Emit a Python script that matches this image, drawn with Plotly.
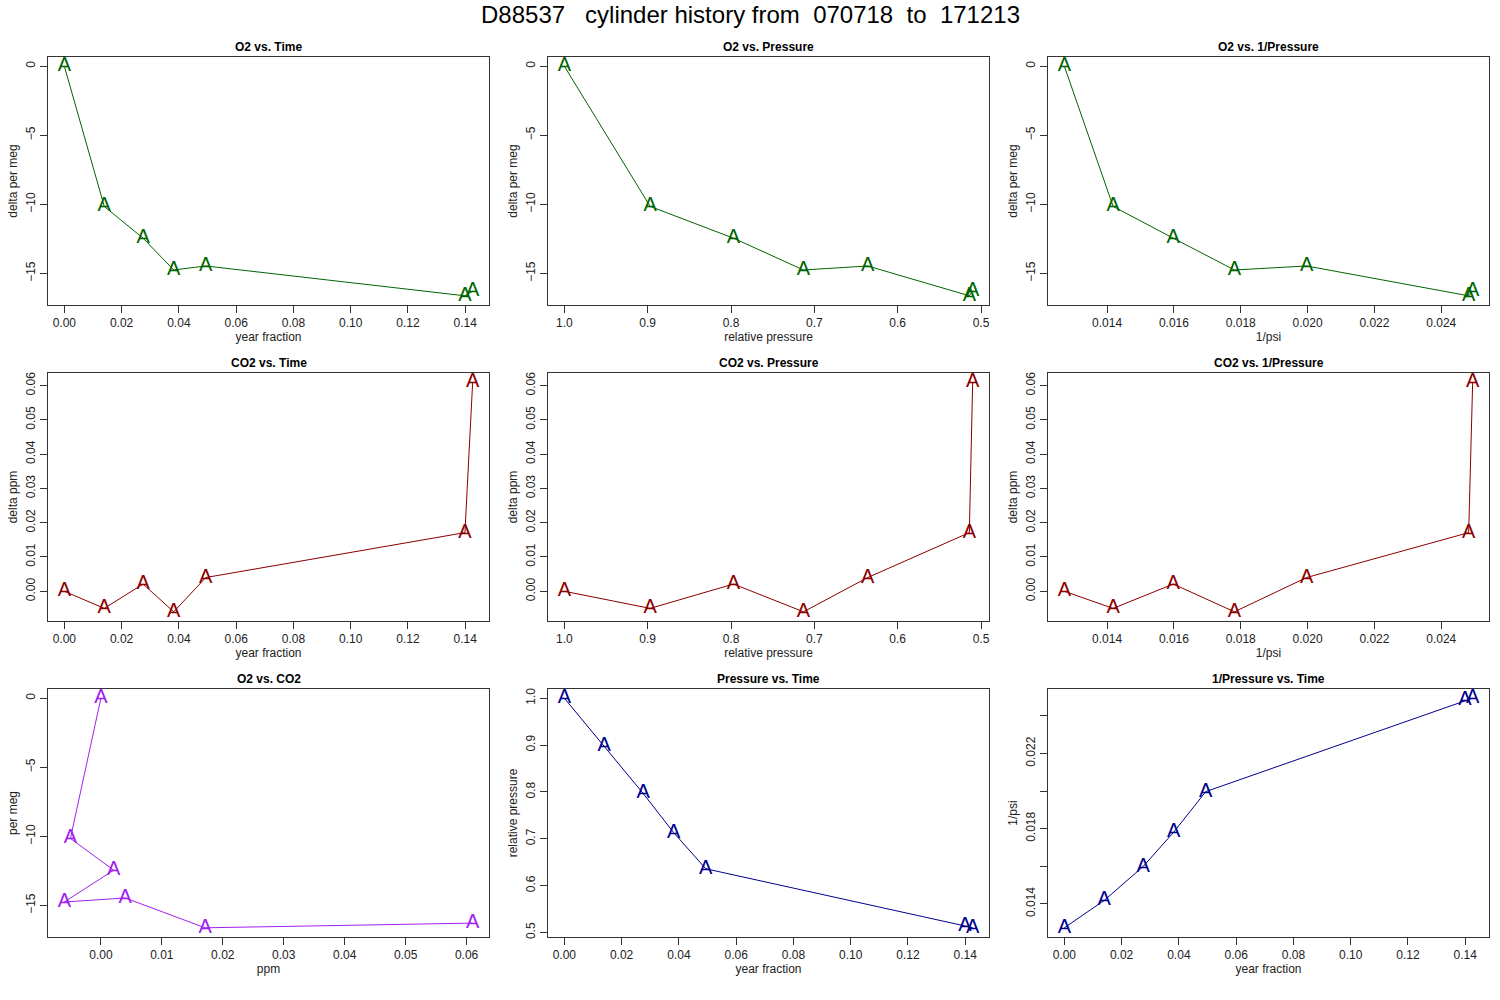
import plotly.graph_objects as go

# cylinder history data (7 runs)
year_frac = [0.0, 0.01395, 0.0275, 0.0382, 0.0494, 0.1399, 0.1426]
o2_permeg = [0.0, -10.15, -12.45, -14.75, -14.46, -16.62, -16.28]
co2_ppm = [0.0, -0.0050, 0.0021, -0.0060, 0.0040, 0.0171, 0.0610]
rel_pressure = [1.0, 0.897, 0.797, 0.713, 0.636, 0.514, 0.510]
inv_psi = [0.01272, 0.01418, 0.01598, 0.01781, 0.01997, 0.02482, 0.02494]
point_label = ["A"] * 7

main_title = "D88537   cylinder history from  070718  to  171213"

GREEN = "#006400"
RED = "#8B0000"
PURPLE = "#A020F0"
BLUE = "#00008B"
FONT = "Liberation Sans, Arial, sans-serif"


def r_range(vals, reverse=False):
    lo, hi = min(vals), max(vals)
    pad = (hi - lo) * 0.04
    r = [lo - pad, hi + pad]
    return r[::-1] if reverse else r


# (title, x, y, color, xtitle, ytitle, xaxis opts, yaxis opts)
panels = [
    ("O2 vs. Time", year_frac, o2_permeg, GREEN, "year fraction", "delta per meg",
     dict(dtick=0.02, tickformat=".2f"), dict(dtick=5)),
    ("O2 vs. Pressure", rel_pressure, o2_permeg, GREEN, "relative pressure", "delta per meg",
     dict(dtick=0.1, tickformat=".1f", rev=True), dict(dtick=5)),
    ("O2 vs. 1/Pressure", inv_psi, o2_permeg, GREEN, "1/psi", "delta per meg",
     dict(dtick=0.002, tickformat=".3f"), dict(dtick=5)),
    ("CO2 vs. Time", year_frac, co2_ppm, RED, "year fraction", "delta ppm",
     dict(dtick=0.02, tickformat=".2f"), dict(dtick=0.01, tickformat=".2f")),
    ("CO2 vs. Pressure", rel_pressure, co2_ppm, RED, "relative pressure", "delta ppm",
     dict(dtick=0.1, tickformat=".1f", rev=True), dict(dtick=0.01, tickformat=".2f")),
    ("CO2 vs. 1/Pressure", inv_psi, co2_ppm, RED, "1/psi", "delta ppm",
     dict(dtick=0.002, tickformat=".3f"), dict(dtick=0.01, tickformat=".2f")),
    ("O2 vs. CO2", co2_ppm, o2_permeg, PURPLE, "ppm", "per meg",
     dict(dtick=0.01, tickformat=".2f"), dict(dtick=5)),
    ("Pressure vs. Time", year_frac, rel_pressure, BLUE, "year fraction", "relative pressure",
     dict(dtick=0.02, tickformat=".2f"), dict(dtick=0.1, tickformat=".1f")),
    ("1/Pressure vs. Time", year_frac, inv_psi, BLUE, "year fraction", "1/psi",
     dict(dtick=0.02, tickformat=".2f"),
     dict(tickvals=[0.014, 0.016, 0.018, 0.020, 0.022, 0.024],
          ticktext=["0.014", "", "0.018", "", "0.022", ""])),
]

# plot box positions in page pixels (left, right) and (top, bottom)
col_px = [(48, 489), (548, 989), (1048, 1489)]
row_px = [(57, 305), (373, 621), (689, 937)]
W, H = 1500, 1000

fig = go.Figure()
annotations = []

for i, (title, xs, ys, col, xt, yt, xopt, yopt) in enumerate(panels):
    r, c = divmod(i, 3)
    n = i + 1
    xa = "x" if n == 1 else f"x{n}"
    ya = "y" if n == 1 else f"y{n}"
    fig.add_trace(go.Scatter(
        x=xs, y=ys, mode="lines+text", text=point_label,
        textposition="middle center",
        textfont=dict(family=FONT, size=20, color=col),
        line=dict(color=col, width=1),
        xaxis=xa, yaxis=ya, showlegend=False, hoverinfo="x+y",
    ))

    xopt = dict(xopt)
    rev = xopt.pop("rev", False)
    axis_common = dict(
        showline=True, linecolor="#333333", linewidth=1, mirror=True,
        ticks="outside", ticklen=7, tickcolor="#333333", tickwidth=1,
        showgrid=False, zeroline=False, automargin=False,
        tickfont=dict(family=FONT, size=12, color="#222222"),
    )
    x0, x1 = col_px[c]
    y0, y1 = row_px[r]
    fig.layout[f"xaxis{n}"] = dict(
        axis_common, domain=[x0 / W, x1 / W], anchor=ya,
        range=r_range(xs, rev),
        title=dict(text=xt, font=dict(family=FONT, size=12, color="#222222"), standoff=3),
        **xopt,
    )
    fig.layout[f"yaxis{n}"] = dict(
        axis_common, domain=[1 - y1 / H, 1 - y0 / H], anchor=xa,
        range=r_range(ys), tickangle=-90,
        title=dict(text=yt, font=dict(family=FONT, size=12, color="#222222"), standoff=4),
        **yopt,
    )
    annotations.append(dict(
        text=f"<b>{title}</b>", x=(x0 + x1) / 2 / W, y=1 - (y0 - 10) / H,
        xref="paper", yref="paper", showarrow=False,
        font=dict(family=FONT, size=12, color="black"),
        xanchor="center", yanchor="middle",
    ))

annotations.append(dict(
    text=main_title.replace(" ", "\u00a0"), x=0.5, y=1 - 14 / H,
    xref="paper", yref="paper", showarrow=False,
    font=dict(family=FONT, size=24, color="black"),
    xanchor="center", yanchor="middle",
))

fig.update_layout(
    width=W, height=H,
    margin=dict(l=0, r=0, t=0, b=0),
    paper_bgcolor="white", plot_bgcolor="white",
    annotations=annotations,
)

# drop the default 8px page margin so the figure sits at the window corner
fig.write_html("out.html", config={"displayModeBar": False},
               post_script="document.body.style.margin='0';"
               "document.body.style.overflow='hidden';")
